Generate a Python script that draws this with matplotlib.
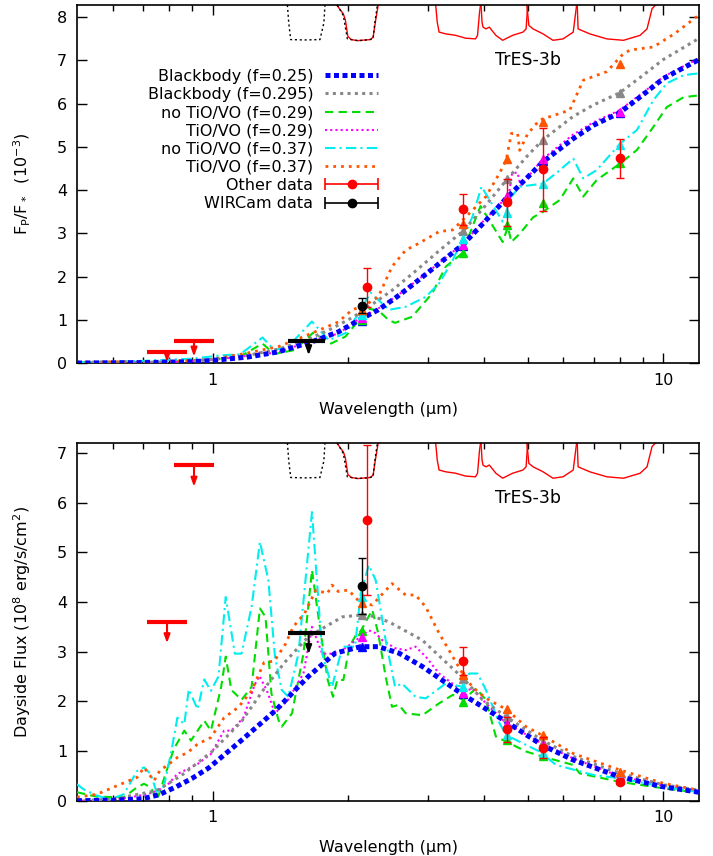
import numpy as np
import matplotlib
matplotlib.use("Agg")
import matplotlib.pyplot as plt
from matplotlib.ticker import FixedLocator, MultipleLocator, NullFormatter
from matplotlib.legend_handler import HandlerErrorbar
from matplotlib.container import ErrorbarContainer

plt.rcParams['font.family'] = ['DejaVu Sans']
plt.rcParams['mathtext.fontset'] = 'dejavusans'
plt.rcParams['mathtext.default'] = 'regular'

FS = 11.5

# ---------------- top panel: Fp/F* (1e-3) ----------------
top_bb25_wl = [0.5, 0.7, 0.9, 1.0, 1.2, 1.4, 1.66, 1.9, 2.11, 2.33, 2.54, 2.77, 3.18, 3.6, 4.0, 4.5, 5.0, 5.4, 6.31, 7.0, 8.0, 9.0, 10.0, 12.0]
top_bb25 = [0.0, 0.01, 0.03, 0.06, 0.14, 0.26, 0.49, 0.72, 0.99, 1.23, 1.5, 1.80, 2.30, 2.75, 3.25, 3.83, 4.3, 4.65, 5.19, 5.5, 5.79, 6.2, 6.58, 7.02]

top_bb295_wl = [0.5, 0.8, 1.0, 1.2, 1.4, 1.6, 1.8, 2.0, 2.15, 2.5, 2.8, 3.2, 3.6, 4.0, 4.5, 5.0, 5.4, 6.3, 7.0, 8.0, 9.0, 10.0, 12.0]
top_bb295 = [0.0, 0.02, 0.08, 0.18, 0.32, 0.52, 0.75, 1.0, 1.2, 1.68, 2.1, 2.62, 3.06, 3.6, 4.25, 4.8, 5.16, 5.7, 5.97, 6.25, 6.65, 7.02, 7.51]

top_noti29_wl = [0.5, 0.8, 1.0, 1.15, 1.29, 1.37, 1.52, 1.67, 1.78, 1.83, 1.97, 2.11, 2.20, 2.33, 2.46, 2.54, 2.77, 3.07, 3.29, 3.58, 3.77, 3.93, 4.40, 4.52, 4.60, 4.80, 5.14, 5.41, 5.89, 6.31, 6.64, 7.11, 8.03, 8.74, 9.5, 10.18, 11.1, 12.0]
top_noti29 = [0.01, 0.03, 0.08, 0.15, 0.45, 0.21, 0.30, 0.70, 0.53, 0.45, 0.61, 0.99, 1.26, 1.22, 0.99, 0.93, 1.07, 1.61, 2.23, 2.54, 3.15, 3.63, 2.80, 3.15, 2.80, 2.99, 3.37, 3.50, 3.77, 4.27, 3.85, 4.23, 4.62, 4.93, 5.46, 5.92, 6.15, 6.19]

top_ti29_wl = [0.5, 0.8, 1.0, 1.2, 1.27, 1.37, 1.66, 1.9, 2.13, 2.3, 2.6, 3.0, 3.6, 4.0, 4.3, 4.55, 4.62, 4.75, 4.82, 5.4, 6.3, 7.0, 8.0, 9.0, 10.0, 12.0]
top_ti29 = [0.0, 0.02, 0.07, 0.17, 0.24, 0.22, 0.52, 0.68, 1.05, 1.22, 1.6, 2.1, 2.77, 3.3, 3.62, 3.95, 4.4, 4.4, 4.1, 4.72, 5.28, 5.57, 5.85, 6.25, 6.62, 7.05]

top_noti37_wl = [0.5, 0.7, 0.9, 1.05, 1.15, 1.29, 1.37, 1.47, 1.66, 1.81, 1.97, 2.11, 2.24, 2.46, 2.68, 2.97, 3.18, 3.41, 3.6, 3.77, 3.95, 4.40, 4.60, 4.80, 5.41, 5.89, 6.31, 6.64, 7.11, 8.03, 8.74, 9.5, 10.18, 11.1, 12.0]
top_noti37 = [0.02, 0.05, 0.10, 0.18, 0.20, 0.59, 0.30, 0.38, 0.96, 0.53, 0.69, 1.15, 1.63, 1.23, 1.30, 1.53, 1.84, 2.38, 2.92, 3.38, 4.08, 3.27, 3.85, 4.08, 4.15, 4.46, 4.73, 4.27, 4.46, 5.08, 5.39, 6.08, 6.47, 6.66, 6.70]

top_ti37_wl = [0.5, 0.8, 0.99, 1.18, 1.40, 1.66, 1.90, 2.04, 2.18, 2.33, 2.50, 2.68, 2.87, 3.18, 3.41, 3.71, 4.04, 4.33, 4.48, 4.60, 4.75, 4.80, 5.0, 5.31, 5.8, 6.2, 6.64, 7.49, 8.16, 8.45, 9.5, 10.6, 12.0]
top_ti37 = [0.02, 0.04, 0.08, 0.22, 0.38, 0.69, 0.95, 1.23, 1.34, 1.53, 2.23, 2.61, 2.77, 3.04, 3.08, 3.46, 3.85, 4.39, 4.69, 5.31, 5.31, 4.92, 5.3, 5.62, 5.75, 5.85, 6.54, 6.74, 7.16, 7.24, 7.31, 7.62, 8.05]

# ---------------- bottom panel: dayside flux (1e8 erg/s/cm2) ----------------
bot_bb25_wl = [0.5, 0.6, 0.7, 0.76, 0.83, 0.9, 0.98, 1.16, 1.38, 1.63, 1.87, 2.13, 2.33, 2.59, 2.92, 3.6, 3.97, 4.48, 5.38, 6.31, 8.0, 10.0, 12.0]
bot_bb25 = [0.0, 0.01, 0.04, 0.12, 0.28, 0.45, 0.66, 1.22, 1.82, 2.5, 2.97, 3.10, 3.10, 2.97, 2.70, 2.13, 1.89, 1.59, 1.12, 0.82, 0.48, 0.28, 0.17]

bot_bb295_wl = [0.5, 0.6, 0.75, 0.85, 1.0, 1.16, 1.3, 1.45, 1.63, 1.94, 2.2, 2.46, 2.92, 3.6, 3.97, 4.48, 5.38, 6.31, 8.0, 10.0, 12.0]
bot_bb295 = [0.0, 0.03, 0.2, 0.5, 1.0, 1.6, 2.25, 2.8, 3.3, 3.7, 3.75, 3.6, 3.23, 2.46, 2.03, 1.69, 1.22, 0.89, 0.55, 0.32, 0.21]

bot_noti29_wl = [0.5, 0.554, 0.635, 0.68, 0.704, 0.728, 0.754, 0.79, 0.82, 0.865, 0.895, 0.926, 0.958, 0.991, 1.044, 1.069, 1.10, 1.159, 1.22, 1.273, 1.31, 1.35, 1.40, 1.423, 1.50, 1.59, 1.661, 1.72, 1.80, 1.85, 1.89, 1.95, 2.01, 2.09, 2.13, 2.26, 2.33, 2.42, 2.50, 2.59, 2.68, 2.92, 3.18, 3.41, 3.60, 3.84, 4.04, 4.25, 4.48, 4.96, 5.38, 6.31, 6.52, 8.0, 10.0, 12.0]
bot_noti29 = [0.17, 0.08, 0.07, 0.27, 0.34, 0.27, 0.03, 0.6, 1.04, 1.41, 1.21, 1.41, 1.61, 1.41, 2.28, 2.90, 2.23, 2.03, 2.29, 3.87, 3.70, 2.16, 1.62, 1.49, 1.76, 2.96, 4.64, 3.64, 2.43, 2.09, 2.43, 2.43, 3.10, 3.37, 3.41, 3.84, 3.37, 2.50, 1.89, 1.93, 1.76, 1.72, 1.96, 2.13, 2.03, 2.26, 2.03, 1.29, 1.19, 0.99, 0.89, 0.72, 0.55, 0.38, 0.25, 0.16]

bot_ti29_wl = [0.5, 0.6, 0.716, 0.754, 0.8, 0.835, 0.895, 0.926, 0.991, 1.06, 1.10, 1.17, 1.24, 1.27, 1.32, 1.375, 1.47, 1.59, 1.661, 1.75, 1.84, 1.94, 2.13, 2.22, 2.30, 2.38, 2.54, 2.68, 2.82, 2.97, 3.18, 3.60, 3.77, 4.04, 4.48, 5.38, 6.31, 8.0, 10.0, 12.0]
bot_ti29 = [0.0, 0.01, 0.13, 0.2, 0.35, 0.54, 0.67, 0.74, 0.94, 1.41, 1.41, 1.67, 2.34, 2.51, 2.21, 1.76, 2.03, 2.56, 3.50, 2.96, 2.96, 3.03, 3.30, 3.43, 3.37, 3.23, 3.07, 3.03, 3.10, 2.90, 2.56, 2.19, 2.26, 1.96, 1.56, 1.15, 0.85, 0.49, 0.30, 0.18]

bot_noti37_wl = [0.5, 0.517, 0.554, 0.593, 0.635, 0.68, 0.704, 0.728, 0.754, 0.78, 0.81, 0.835, 0.865, 0.885, 0.926, 0.958, 0.991, 1.03, 1.069, 1.12, 1.159, 1.22, 1.273, 1.329, 1.375, 1.423, 1.472, 1.55, 1.661, 1.75, 1.84, 1.94, 2.07, 2.13, 2.22, 2.30, 2.42, 2.54, 2.63, 2.82, 2.97, 3.29, 3.60, 3.71, 3.87, 4.04, 4.33, 4.48, 5.31, 5.78, 6.98, 8.0, 10.0, 12.0]
bot_noti37 = [0.33, 0.23, 0.10, 0.03, 0.13, 0.60, 0.67, 0.54, 0.13, 0.3, 1.0, 1.67, 1.54, 2.24, 1.84, 2.44, 2.21, 2.5, 4.10, 2.96, 2.96, 3.9, 5.21, 4.44, 2.90, 2.23, 2.09, 2.96, 5.81, 2.96, 2.29, 3.10, 3.10, 4.17, 4.74, 4.44, 3.23, 2.29, 2.36, 2.09, 2.06, 2.36, 2.29, 2.56, 2.56, 2.23, 1.56, 1.32, 0.99, 0.72, 0.52, 0.45, 0.28, 0.17]

bot_ti37_wl = [0.5, 0.554, 0.624, 0.68, 0.704, 0.741, 0.765, 0.79, 0.835, 0.88, 0.926, 0.99, 1.06, 1.14, 1.22, 1.30, 1.37, 1.45, 1.509, 1.599, 1.695, 1.797, 1.84, 1.90, 2.0, 2.13, 2.26, 2.50, 2.68, 2.82, 2.97, 3.18, 3.41, 3.60, 3.77, 4.04, 4.48, 4.96, 5.38, 6.31, 8.0, 10.0, 12.0]
bot_ti37 = [0.07, 0.13, 0.33, 0.47, 0.67, 0.40, 0.62, 0.70, 0.87, 0.97, 1.14, 1.27, 1.67, 1.88, 2.21, 2.78, 2.81, 3.15, 3.50, 3.77, 4.24, 4.17, 4.34, 4.21, 4.24, 3.98, 3.94, 4.37, 4.14, 4.14, 3.90, 3.37, 2.90, 2.53, 2.29, 2.06, 1.84, 1.49, 1.32, 0.95, 0.62, 0.35, 0.21]

# ---------------- band-averaged models (triangles) ----------------
band_wl = [2.14, 3.6, 4.5, 5.4, 8.0]
top_band = {
    'bb25': [0.98, 2.71, 3.83, 4.68, 5.79],
    'bb295': [1.20, 3.06, 4.25, 5.16, 6.25],
    'noti29': [1.00, 2.54, 3.19, 3.71, 4.62],
    'ti29': [1.05, 2.73, 3.87, 4.71, 5.81],
    'noti37': [1.10, 2.88, 3.47, 4.15, 5.04],
    'ti37': [1.23, 3.21, 4.72, 5.57, 6.91],
}
bot_band = {
    'bb25': [3.10, 2.15, 1.55, 1.10, 0.47],
    'bb295': [3.74, 2.44, 1.69, 1.19, 0.55],
    'noti29': [3.41, 1.99, 1.22, 0.90, 0.42],
    'ti29': [3.29, 2.17, 1.55, 1.12, 0.47],
    'noti37': [4.10, 2.29, 1.32, 0.97, 0.44],
    'ti37': [3.98, 2.53, 1.84, 1.32, 0.58],
}

# ---------------- measurements ----------------
other_wl = [2.20, 3.6, 4.5, 5.4, 8.0]
other_top = [1.75, 3.56, 3.72, 4.48, 4.74]
other_top_err = [0.45, 0.36, 0.54, 0.96, 0.45]
other_bot = [5.65, 2.81, 1.44, 1.07, 0.38]
other_bot_err = [1.50, 0.28, 0.25, 0.22, 0.05]

wircam_wl = [2.14]
wircam_top = [1.33]
wircam_top_err = [0.17]
wircam_bot = [4.32]
wircam_bot_err = [0.56]

# upper limits: band centre, band edges, limit value, arrow tip
ul_red_wl = [0.792, 0.909]
ul_red_lo = [0.715, 0.820]
ul_red_hi = [0.877, 1.007]
ul_red_top = [0.25, 0.52]
ul_red_top_tip = [0.02, 0.15]
ul_red_bot = [3.60, 6.75]
ul_red_bot_tip = [3.17, 6.32]

ul_wir_wl = [1.633]
ul_wir_lo = [1.472]
ul_wir_hi = [1.776]
ul_wir_top = [0.51]
ul_wir_top_tip = [0.18]
ul_wir_bot = [3.38]
ul_wir_bot_tip = [2.95]

# ---------------- filter transmission curves ----------------
ks_wl = [1.885, 1.95, 1.97, 1.995, 2.03, 2.1, 2.18, 2.24, 2.27, 2.30, 2.33]
ks_T = [0.0, 0.25, 0.42, 0.88, 0.97, 1.0, 0.98, 0.97, 0.9, 0.42, 0.0]
ksw_wl = [1.89, 1.95, 1.99, 2.1, 2.2, 2.27, 2.29, 2.32]
ksw_T = [0.0, 0.3, 0.95, 1.0, 0.98, 0.95, 0.5, 0.0]
h_wl = [1.465, 1.475, 1.49, 1.6, 1.73, 1.765, 1.775]
h_T = [0.0, 0.5, 0.97, 0.98, 0.97, 0.5, 0.0]
irac1_wl = [3.125, 3.15, 3.18, 3.29, 3.46, 3.64, 3.83, 3.87, 3.91, 3.93]
irac1_T = [0.0, 0.48, 0.76, 0.81, 0.85, 0.93, 0.95, 0.85, 0.2, 0.0]
irac2_wl = [3.94, 3.96, 3.98, 4.04, 4.11, 4.25, 4.40, 4.63, 4.88, 4.96, 5.0]
irac2_T = [0.0, 0.48, 0.62, 0.67, 0.62, 0.85, 0.99, 0.85, 0.76, 0.67, 0.0]
irac3_wl = [4.98, 5.03, 5.14, 5.41, 5.69, 5.99, 6.31, 6.42]
irac3_T = [0.0, 0.57, 0.67, 0.81, 0.99, 0.95, 0.76, 0.0]
irac4_wl = [6.44, 6.47, 6.87, 7.49, 8.16, 8.88, 9.20, 9.44, 9.61]
irac4_T = [0.0, 0.67, 0.81, 0.95, 0.99, 0.85, 0.67, 0.1, 0.0]

FILTER_DEPTH = 0.0995

models = [
    ('bb25', 'Blackbody (f=0.25)', '#0000ff', (0, (1, 0.7)), 3.6, 6),
    ('bb295', 'Blackbody (f=0.295)', '#888888', (0, (1, 1.4)), 2.2, 5),
    ('noti29', 'no TiO/VO (f=0.29)', '#00dd00', (0, (4, 2.5)), 1.5, 4),
    ('ti29', 'TiO/VO (f=0.29)', '#ff00ff', (0, (1, 1.5)), 1.5, 4),
    ('noti37', 'no TiO/VO (f=0.37)', '#00eeee', (0, (5, 2, 1, 2)), 1.5, 4),
    ('ti37', 'TiO/VO (f=0.37)', '#ff5500', (0, (1, 1.8)), 2.0, 4),
]
top_curves = {'bb25': (top_bb25_wl, top_bb25), 'bb295': (top_bb295_wl, top_bb295),
              'noti29': (top_noti29_wl, top_noti29), 'ti29': (top_ti29_wl, top_ti29),
              'noti37': (top_noti37_wl, top_noti37), 'ti37': (top_ti37_wl, top_ti37)}
bot_curves = {'bb25': (bot_bb25_wl, bot_bb25), 'bb295': (bot_bb295_wl, bot_bb295),
              'noti29': (bot_noti29_wl, bot_noti29), 'ti29': (bot_ti29_wl, bot_ti29),
              'noti37': (bot_noti37_wl, bot_noti37), 'ti37': (bot_ti37_wl, bot_ti37)}


def draw_panel(ax, curves, bands, other, other_err, wir, wir_err,
               ul_red, ul_red_tip, ul_wir, ul_wir_tip, ymax, label):
    tr = ax.get_xaxis_transform()
    for wl, T in [(ks_wl, ks_T), (irac1_wl, irac1_T), (irac2_wl, irac2_T),
                  (irac3_wl, irac3_T), (irac4_wl, irac4_T)]:
        ax.plot(wl, 1 - FILTER_DEPTH * np.array(T), color='red', lw=1, transform=tr, zorder=2)
    for wl, T in [(h_wl, h_T), (ksw_wl, ksw_T)]:
        ax.plot(wl, 1 - FILTER_DEPTH * np.array(T), color='black', lw=1,
                ls=(0, (1.5, 2)), transform=tr, zorder=2)

    handles = []
    for key, name, c, ls, lw, z in models:
        wl, v = curves[key]
        ln, = ax.plot(wl, v, color=c, ls=ls, lw=lw, label=name, zorder=z,
                      dash_capstyle='butt')
        handles.append(ln)
    for key, name, c, ls, lw, z in models:
        ax.plot(band_wl, bands[key], '^', color=c, ms=6, ls='none', zorder=7)

    ax.errorbar(other_wl, other, yerr=other_err, fmt='o', color='red', ms=6,
                elinewidth=1, capsize=3, capthick=1, zorder=9)
    ax.errorbar(wircam_wl, wir, yerr=wir_err, fmt='o', color='black', ms=6,
                elinewidth=1, capsize=3, capthick=1, zorder=10)

    red_lo = np.array(ul_red_wl) - np.array(ul_red_lo)
    red_hi = np.array(ul_red_hi) - np.array(ul_red_wl)
    ax.errorbar(ul_red_wl, ul_red, xerr=[red_lo, red_hi], fmt='none', ecolor='red',
                elinewidth=3, capsize=0, zorder=9)
    for x, y, t in zip(ul_red_wl, ul_red, ul_red_tip):
        ax.annotate('', xy=(x, t), xytext=(x, y),
                    arrowprops=dict(arrowstyle='-|>,head_length=0.5,head_width=0.18',
                                    color='red', lw=1.5, shrinkA=0, shrinkB=0), zorder=9)
    wir_lo = np.array(ul_wir_wl) - np.array(ul_wir_lo)
    wir_hi = np.array(ul_wir_hi) - np.array(ul_wir_wl)
    ax.errorbar(ul_wir_wl, ul_wir, xerr=[wir_lo, wir_hi], fmt='none', ecolor='black',
                elinewidth=3, capsize=0, zorder=10)
    for x, y, t in zip(ul_wir_wl, ul_wir, ul_wir_tip):
        ax.annotate('', xy=(x, t), xytext=(x, y),
                    arrowprops=dict(arrowstyle='-|>,head_length=0.5,head_width=0.18',
                                    color='black', lw=1.5, shrinkA=0, shrinkB=0), zorder=10)

    ax.set_xscale('log')
    ax.set_xlim(0.5, 12)
    ax.set_ylim(0, ymax)
    ax.xaxis.set_major_locator(FixedLocator([1, 10]))
    ax.xaxis.set_major_formatter(plt.FixedFormatter(['1', '10']))
    ax.xaxis.set_minor_locator(FixedLocator([0.6, 0.7, 0.8, 0.9, 2, 3, 4, 5, 6, 7, 8, 9]))
    ax.xaxis.set_minor_formatter(NullFormatter())
    ax.yaxis.set_major_locator(MultipleLocator(1))
    ax.tick_params(which='both', direction='in', top=True, right=True, labelsize=FS, pad=7)
    ax.tick_params(which='major', length=7, width=1)
    ax.tick_params(which='minor', length=4, width=1)
    for s in ax.spines.values():
        s.set_linewidth(1.2)
    ax.set_xlabel('Wavelength (\u03bcm)', fontsize=FS)
    ax.xaxis.set_label_coords(0.5, -0.11)
    ax.set_ylabel(label, fontsize=FS)
    ax.yaxis.set_label_coords(-0.07, 0.5)
    ax.text(0.725, 0.846, 'TrES-3b', transform=ax.transAxes, ha='center', va='center',
            fontsize=12.5)
    return handles


fig = plt.figure(figsize=(7.13, 8.56), dpi=100)
ax1 = fig.add_axes([0.108, 0.5759, 0.8724, 0.4182])
ax2 = fig.add_axes([0.108, 0.0646, 0.8724, 0.4179])

handles = draw_panel(ax1, top_curves, top_band, other_top, other_top_err, wircam_top,
                     wircam_top_err, ul_red_top, ul_red_top_tip, ul_wir_top, ul_wir_top_tip,
                     8.28, r'F$_P$/F$_*$  (10$^{-3}$)')
draw_panel(ax2, bot_curves, bot_band, other_bot, other_bot_err, wircam_bot,
           wircam_bot_err, ul_red_bot, ul_red_bot_tip, ul_wir_bot, ul_wir_bot_tip,
           7.2, r'Dayside Flux (10$^8$ erg/s/cm$^2$)')

# legend proxies drawn like gnuplot's xerrorbar samples
other_proxy = ax1.errorbar([np.nan], [np.nan], xerr=[1], fmt='o', color='red', ms=6,
                           elinewidth=1.2, capsize=4, capthick=1.2)
wir_proxy = ax1.errorbar([np.nan], [np.nan], xerr=[1], fmt='o', color='black', ms=6,
                         elinewidth=1.2, capsize=4, capthick=1.2)
ax1.legend(handles + [other_proxy, wir_proxy],
           [m[1] for m in models] + ['Other data', 'WIRCam data'],
           loc='upper right', bbox_to_anchor=(0.484, 0.822), frameon=False,
           fontsize=FS, handlelength=3.3, handletextpad=0.75, labelspacing=0.2,
           markerfirst=False, borderpad=0, borderaxespad=0, numpoints=1,
           handler_map={ErrorbarContainer: HandlerErrorbar(xerr_size=1.65)})

fig.savefig('out.png', dpi=100)
